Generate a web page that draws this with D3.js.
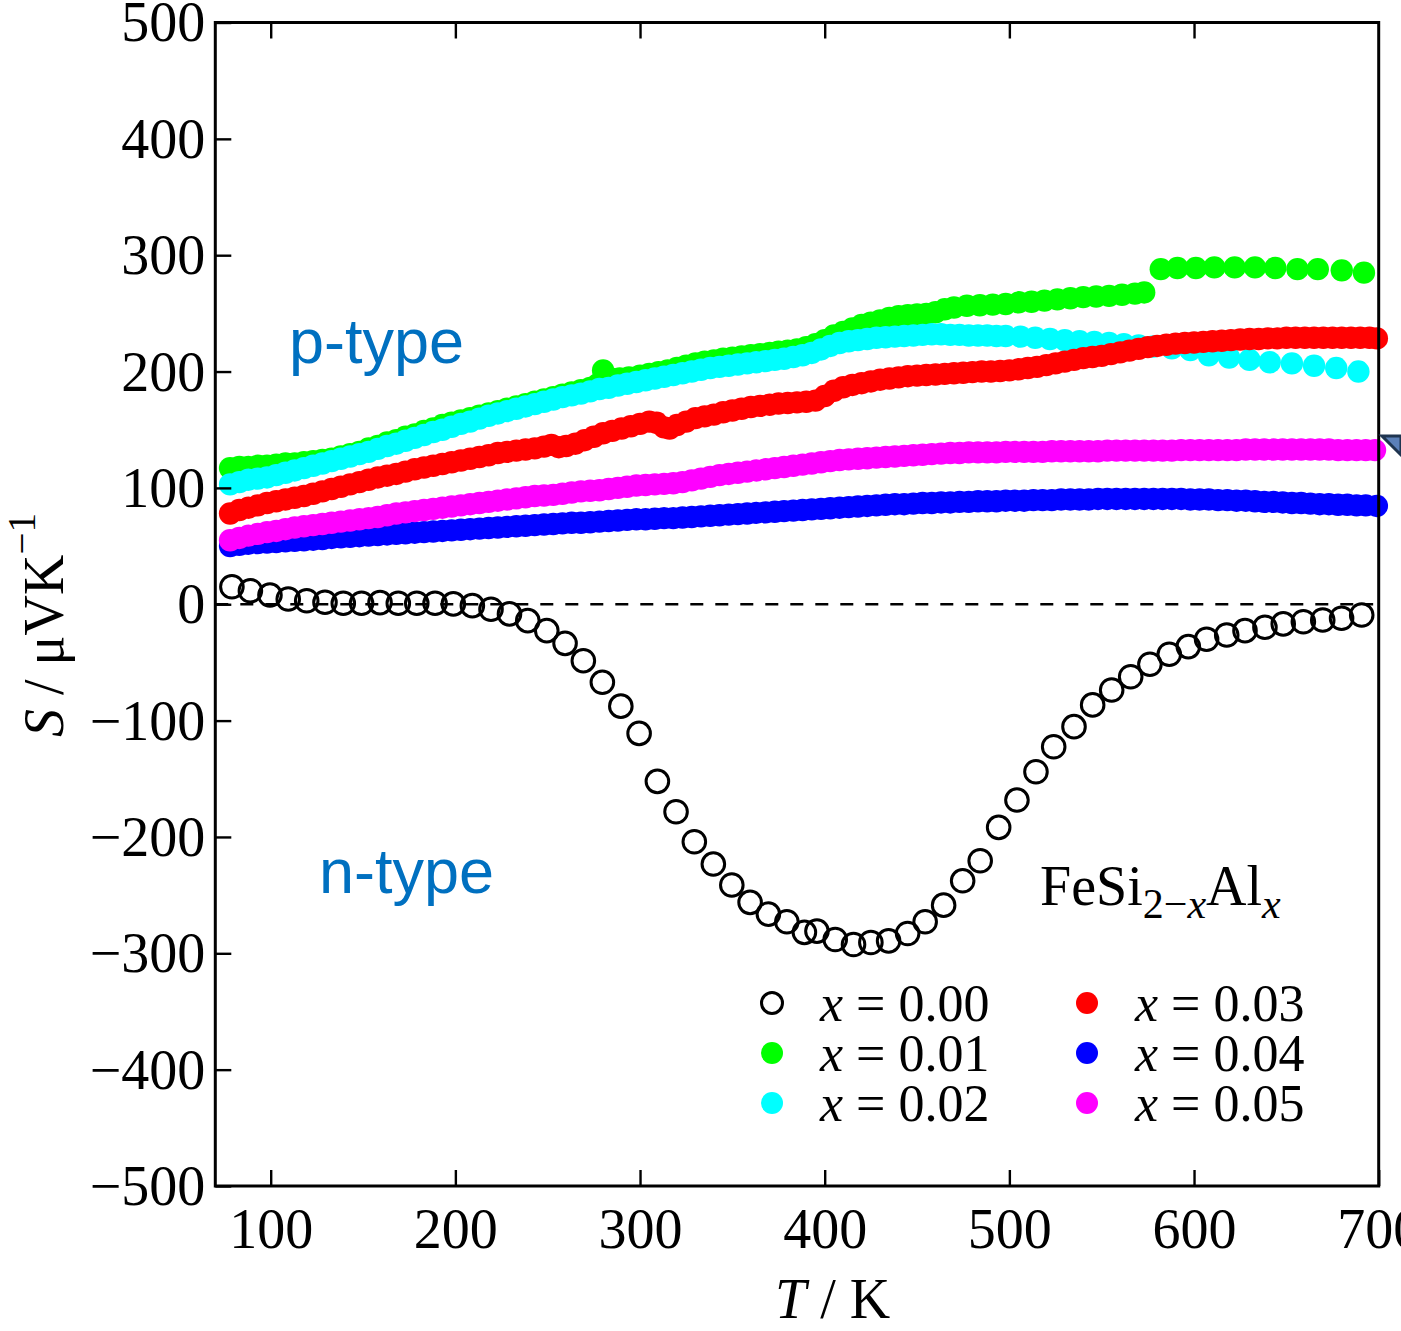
<!DOCTYPE html>
<html>
<head>
<meta charset="utf-8">
<script src="https://cdn.jsdelivr.net/npm/d3@7"></script>
<style>
  html, body { margin: 0; padding: 0; background: #fff; }
  svg { display: block; }
  text { white-space: pre; }
</style>
</head>
<body>
<svg id="chart" width="1401" height="1331"></svg>
<script>
// Seebeck coefficient S (µV/K) versus temperature T (K) for FeSi(2-x)Al(x)

const xTickValues = [100, 200, 300, 400, 500, 600, 700];
const yTickValues = [-500, -400, -300, -200, -100, 0, 100, 200, 300, 400, 500];

const seriesLabels = ["0.00", "0.01", "0.02", "0.03", "0.04", "0.05"];

// x = 0.00 : [T, S]
const s000 = [[79,15],[89,11.6],[99.6,7.9],[109.5,4.5],[119.5,3],[129.4,1.7],[139.3,0.9],[149.2,0.9],[159.2,1.4],[169.1,0.9],[179.1,0.9],[189,0.9],[198.9,0.3],[209.2,-1.2],[219.3,-4.3],[229.3,-8.3],[239.2,-14.1],[249.5,-22.7],[259.4,-33.6],[269.3,-48.5],[279.6,-67.1],[289.6,-87.6],[299.5,-111],[309.4,-152.2],[319.5,-178.3],[329.4,-204.1],[339.7,-223.3],[349.7,-241.3],[359.6,-256.2],[369.5,-266.3],[379.5,-272.9],[389,-282],[395.8,-280.9],[405.7,-288.1],[415.6,-292.4],[425,-290.7],[434.6,-289.3],[444.9,-283],[454.4,-272.9],[464.4,-258.6],[474.7,-237.7],[484.2,-220.5],[494.2,-191.8],[504.1,-168.3],[514.4,-144],[524,-122.5],[535,-105.2],[545.1,-86.5],[555.4,-73.7],[565.7,-62.3],[576.1,-51.6],[586.6,-43],[596.9,-36.4],[606.8,-30.1],[617.7,-26.4],[627.6,-22.7],[638.4,-19.8],[648.3,-16.9],[659.2,-15],[669.7,-13.5],[679.9,-12],[690.8,-9.2]];

// x = 0.01
const s001 = [[78,117],[83,118],[88,118],[93,119],[98,119],[103,120],[108,121],[113,121],[118,122],[123,123],[128,124],[133,125],[138,127],[143,129],[148,131],[153,134],[158,136],[163,139],[168,141],[173,144],[178,146],[183,149],[188,151],[193,154],[198,156],[203,158],[208,160],[213,162],[218,164],[223,166],[228,168],[233,170],[238,172],[243,174],[248,176],[253,178],[258,180],[263,182],[268,184],[273,186],[277,189],[280,201],[284,194],[289,194],[294,195],[300,196.5],[305,198],[310,199.5],[315,201],[320,203],[325,205],[330,207],[335,208.5],[340,209.5],[345,211],[350,212],[355,213],[360,214],[365,215],[370,216],[375,217],[380,218],[385,219],[390,221],[395,223.5],[400,227],[405,231],[410,234],[415,237],[420,240],[425,242],[430,244],[435,246],[440,247.5],[445,248.5],[450,249],[455,249.5],[460,251],[465,253.5],[470,255],[477,256.5],[484,257],[491,257.5],[498,258],[505,259.5],[512,260],[519,261],[526,262],[533,263],[540,264],[547,264.5],[554,265],[561,266],[568,267],[573,268],[582,288],[591,289],[601,289],[611,289.5],[622,289.5],[633,289.5],[644,289],[656,288],[667,288],[680,287],[692,285]];

// x = 0.02
const s002 = [[78,103],[83,105],[88,107],[93,108],[98,109],[103,111],[108,113],[113,115],[118,117],[123,119],[128,121],[133,123],[138,125],[143,127],[148,129],[153,131],[158,133.5],[163,136],[168,138],[173,140.5],[178,143],[183,145.5],[188,148],[193,150],[198,152.5],[203,155],[208,157],[213,159.5],[218,162],[223,164],[228,166],[233,168],[238,170],[243,172],[248,174],[253,176],[258,178],[263,179.5],[268,181],[273,183],[278,185],[283,186],[288,188],[293,189.5],[298,191],[303,192.5],[308,194],[313,195.5],[318,197],[323,198.5],[328,200],[333,201.5],[338,203],[343,204],[348,205],[353,206],[358,207],[363,208],[368,209],[373,210],[378,211],[383,212.5],[388,214],[393,216],[398,219],[403,222],[408,224.5],[413,226],[418,227],[423,228],[428,229],[433,229.5],[438,230],[443,230.5],[448,231],[453,231.5],[458,232],[463,232],[468,231.5],[473,231.5],[478,231],[483,231],[488,231],[493,230.5],[498,230.5],[506,230],[514,229],[522,228],[530,227],[538,226],[546,225.5],[554,224.5],[562,223.5],[570,222.5],[578,221.5],[588,220],[598,218.5],[608,214],[619,212],[630,210],[641,208],[653,207],[665,205],[677,203],[689,200]];

// x = 0.03
const s003 = [[78,78],[83,81],[88,83],[93,85],[98,87],[103,88.5],[108,90],[113,91.5],[118,93],[123,95],[128,97],[133,99],[138,101],[143,103],[148,105],[153,107],[158,109],[163,110.5],[168,112],[173,114],[178,116],[183,117.5],[188,119],[193,120.5],[198,122],[203,123.5],[208,125],[213,126.5],[218,128],[223,130],[228,131],[233,132],[238,133],[243,134],[248,135.5],[252,137],[256,135],[260,136],[265,138],[270,141],[275,144],[280,147],[285,149],[290,151],[295,153],[300,155],[305,157],[309,156],[313,152],[316,151],[320,154],[325,157],[330,160],[335,161.5],[340,163],[345,165],[350,166.5],[355,168],[360,169.5],[365,170.5],[370,171.5],[375,172.5],[380,173],[385,173.5],[390,174],[395,175],[400,179],[405,183.5],[410,186.5],[415,188.5],[420,190],[425,191.5],[430,193],[435,194],[440,195],[445,196],[450,196.5],[455,197],[460,197.5],[465,198],[470,198.5],[475,199],[480,199.5],[485,200],[490,200],[495,200.5],[500,201],[505,202],[510,203],[515,204],[520,205.5],[525,207],[530,208.5],[535,210],[540,211.5],[545,212.5],[550,213.5],[555,215],[560,216.5],[565,218],[570,219.5],[575,221],[580,222],[585,223],[590,224],[595,224.5],[600,225],[605,225.5],[610,226],[615,226.5],[620,227],[625,227.5],[630,228],[635,228],[640,228.5],[645,228.5],[650,229],[655,229],[660,229],[665,229],[670,229],[675,229],[680,229],[685,229],[690,229],[695,229],[699,228.5]];

// x = 0.04
const s004 = [[78,50],[83,51],[88,52],[93,52.5],[98,53],[103,53.5],[108,54],[113,54.5],[118,55],[123,55.5],[128,56],[133,57],[138,57.5],[143,58],[148,58.5],[153,59],[158,59.5],[163,60],[168,60.5],[173,61],[178,61.5],[183,62],[188,62.5],[193,63],[198,63.5],[203,64],[208,64.5],[213,65],[218,65.5],[223,66],[228,66.5],[233,67],[238,67.5],[243,68],[248,68.5],[253,69],[258,69.5],[263,70],[268,70],[273,70.5],[278,71],[283,71.5],[288,72],[293,72.5],[298,73],[303,73],[308,73.5],[313,74],[318,74],[323,74.5],[328,75],[333,75.5],[338,76],[343,76.5],[348,77],[353,77.5],[358,78],[363,78.5],[368,79],[373,79.5],[378,80],[383,80.5],[388,81],[393,81.5],[398,82],[403,82.5],[408,83],[413,83.5],[418,84],[423,84.5],[428,85],[433,85.5],[438,86],[443,86],[448,86.5],[453,87],[458,87],[463,87.5],[468,87.5],[473,88],[478,88],[483,88.5],[488,88.5],[493,88.5],[498,89],[503,89],[508,89],[513,89.5],[518,89.5],[523,89.5],[528,90],[533,90],[538,90],[543,90],[548,90.5],[553,90.5],[558,90.5],[563,90.5],[568,90.5],[573,90.5],[578,90.5],[583,90.5],[588,90.5],[593,90.5],[598,90],[603,90],[608,90],[613,89.5],[618,89.5],[623,89],[628,89],[633,88.5],[638,88],[643,88],[648,87.5],[653,87],[658,87],[663,86.5],[668,86],[673,86],[678,85.5],[683,85.5],[688,85],[693,85],[699,84.5]];

// x = 0.05
const s005 = [[78,55],[83,57],[88,59],[93,60.5],[98,62],[103,63],[108,64.5],[113,66],[118,67],[123,68],[128,69],[133,70],[138,71],[143,72],[148,73],[153,74],[158,75],[163,76.5],[168,78],[173,79],[178,80],[183,81],[188,82],[193,83],[198,84],[203,85],[208,86],[213,87],[218,88],[223,89],[228,90],[233,91],[238,92],[243,93],[248,93.5],[253,94],[258,95],[263,96],[268,97],[273,97.5],[278,98],[283,99],[288,100],[293,101],[298,102],[303,102.5],[308,103],[313,103.5],[318,104],[323,105],[328,106.5],[333,108],[338,109.5],[343,111],[348,112],[353,113],[358,114],[363,115],[368,116],[373,117],[378,118],[383,119],[388,120],[393,121],[398,122],[403,123],[408,124],[413,124.5],[418,125],[423,125.5],[428,126],[433,126.5],[438,127],[443,127.5],[448,128],[453,128.5],[458,129],[463,129.5],[468,130],[473,130],[478,130.5],[483,130.5],[488,130.5],[493,130.5],[498,131],[503,131],[508,131],[513,131],[518,131],[523,131.5],[528,131.5],[533,131.5],[538,131.5],[543,131.5],[548,131.5],[553,132],[558,132],[563,132],[568,132],[573,132],[578,132],[583,132],[588,132],[593,132.5],[598,132.5],[603,132.5],[608,132.5],[613,132.5],[618,132.5],[623,132.5],[628,133],[633,133],[638,133],[643,133],[648,133],[653,133],[658,133],[663,133],[668,133],[673,133],[678,132.5],[683,132.5],[688,132.5],[693,132.5],[698,132.5]];

const seriesData = [s000, s001, s002, s003, s004, s005];

// ---------------------------------------------------------------- styling
const colors = ["#000000", "#00ff00", "#00ffff", "#ff0000", "#0000ff", "#ff00ff"];
const serif = "'Liberation Serif', 'Times New Roman', serif";
const sans = "'Liberation Sans', Arial, sans-serif";

const svg = d3.select("#chart");

const x = d3.scaleLinear().domain([70, 700]).range([215.3, 1378.7]);
const y = d3.scaleLinear().domain([-500, 500]).range([1186, 22.5]);

const [x0, x1] = x.range();
const [yb, yt] = y.range();

// zero reference line
svg.append("line")
  .attr("x1", x(70)).attr("x2", x(697))
  .attr("y1", y(0)).attr("y2", y(0))
  .attr("stroke", "#000").attr("stroke-width", 2.6)
  .attr("stroke-dasharray", "13,12");

// data markers
const plot = svg.append("g");
seriesData.forEach((data, i) => {
  const g = plot.append("g");
  const open = i === 0;
  g.selectAll("circle").data(data).join("circle")
    .attr("cx", d => x(d[0]))
    .attr("cy", d => y(d[1]))
    .attr("r", open ? 11.3 : 11.2)
    .attr("fill", open ? "none" : colors[i])
    .attr("stroke", open ? "#000" : "none")
    .attr("stroke-width", open ? 3 : 0);
});

// axes with inward ticks
const fontSize = 56;

const gx = svg.append("g").attr("transform", `translate(0,${yb})`)
  .call(d3.axisBottom(x).tickValues(xTickValues).tickSizeInner(-16).tickSizeOuter(0).tickPadding(22));
const gy = svg.append("g").attr("transform", `translate(${x0},0)`)
  .call(d3.axisLeft(y).tickValues(yTickValues).tickSizeInner(-16).tickSizeOuter(0).tickPadding(10));
const gt = svg.append("g").attr("transform", `translate(0,${yt})`)
  .call(d3.axisTop(x).tickValues(xTickValues.filter(v => v < 700)).tickSizeInner(-16).tickSizeOuter(0).tickFormat(""));

[gx, gy, gt].forEach(g => {
  g.select(".domain").remove();
  g.selectAll(".tick line").attr("stroke", "#000").attr("stroke-width", 2.4);
  g.selectAll(".tick text")
    .attr("fill", "#000")
    .style("font-family", serif)
    .style("font-size", fontSize + "px");
});
gy.selectAll(".tick text").attr("dy", "0.33em");

// frame
svg.append("rect")
  .attr("x", x0).attr("y", yt)
  .attr("width", x1 - x0).attr("height", yb - yt)
  .attr("fill", "none").attr("stroke", "#000").attr("stroke-width", 3);

// axis titles
const xt = svg.append("text")
  .attr("x", 775).attr("y", 1318)
  .style("font-family", serif).style("font-size", fontSize + "px");
xt.append("tspan").style("font-style", "italic").text("T");
xt.append("tspan").text(" / K");

const yTitle = svg.append("text")
  .attr("transform", "translate(63,737) rotate(-90)")
  .style("font-family", serif).style("font-size", fontSize + "px");
yTitle.append("tspan").style("font-style", "italic").text("S");
yTitle.append("tspan").text(" / μVK");
yTitle.append("tspan").attr("dy", -28).style("font-size", "39px").text("−1");

// region annotations
svg.append("text").attr("x", 289).attr("y", 363)
  .style("font-family", sans).style("font-size", "63px").attr("fill", "#0070c0")
  .text("p-type");
svg.append("text").attr("x", 319).attr("y", 893)
  .style("font-family", sans).style("font-size", "63px").attr("fill", "#0070c0")
  .text("n-type");

// compound formula
const formula = svg.append("text").attr("x", 1040).attr("y", 905)
  .style("font-family", serif).style("font-size", fontSize + "px");
formula.append("tspan").text("FeSi");
formula.append("tspan").attr("dy", 13).style("font-size", "42px").text("2−");
formula.append("tspan").style("font-size", "42px").style("font-style", "italic").text("x");
formula.append("tspan").attr("dy", -13).text("Al");
formula.append("tspan").attr("dy", 13).style("font-size", "42px").style("font-style", "italic").text("x");

// legend: two columns of three entries
const legendCols = [772, 1087];
const legendRows = [1003, 1053, 1103];
seriesLabels.forEach((lab, i) => {
  const cx = legendCols[Math.floor(i / 3)];
  const cy = legendRows[i % 3];
  const open = i === 0;
  svg.append("circle")
    .attr("cx", cx).attr("cy", cy).attr("r", open ? 10.5 : 11)
    .attr("fill", open ? "none" : colors[i])
    .attr("stroke", open ? "#000" : "none")
    .attr("stroke-width", open ? 3 : 0);
  const t = svg.append("text").attr("x", cx + 48).attr("y", cy + 18)
    .style("font-family", serif).style("font-size", "52px");
  t.append("tspan").style("font-style", "italic").text("x");
  t.append("tspan").text(" = " + lab);
});

// small arrowhead fragment at the right edge
svg.append("path")
  .attr("d", "M1382,436 L1401,436 L1401,455 Z")
  .attr("fill", "#5b80b8").attr("stroke", "#1f3550").attr("stroke-width", 3)
  .attr("stroke-linejoin", "miter");
</script>
</body>
</html>
